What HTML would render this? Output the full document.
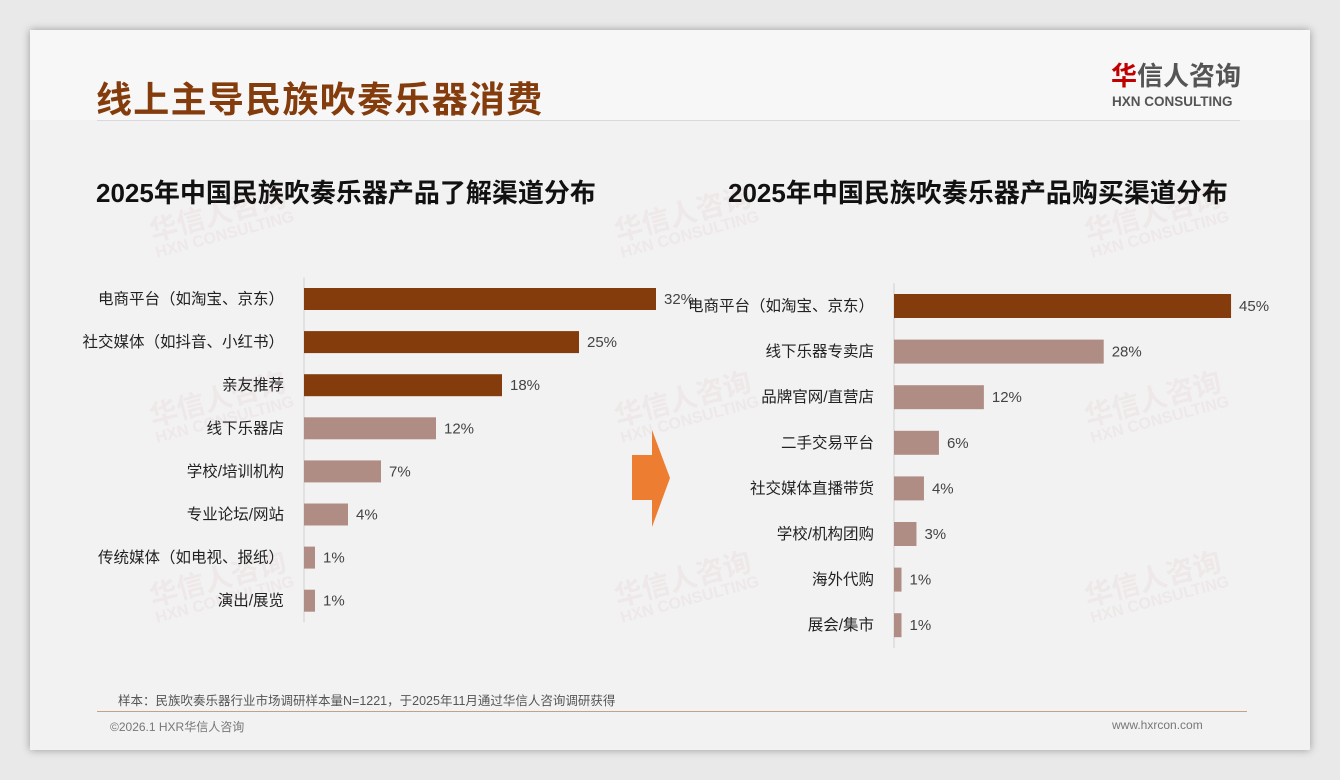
<!DOCTYPE html>
<html><head><meta charset="utf-8"><style>
body{margin:0;width:1340px;height:780px;background:#e9e9e9;font-family:"Liberation Sans","Noto Sans CJK SC",sans-serif;position:relative;overflow:hidden}
.card{position:absolute;left:30px;top:30px;width:1280px;height:720px;background:#f2f2f2;box-shadow:0 0 8px rgba(0,0,0,.35)}
.hdr{position:absolute;left:30px;top:30px;width:1280px;height:90px;background:#f7f7f7}
.t{position:absolute;white-space:nowrap}
.wm{position:absolute;color:rgba(200,120,120,0.07);font-weight:bold;font-size:28px;transform:rotate(-15deg);white-space:nowrap;line-height:1}
.wm span{display:block;font-size:16px}
</style></head><body>
<div class="card"></div>
<div class="hdr"></div>
<div class="t" style="left:96px;top:71px;font-size:36px;font-weight:bold;color:#843c0c;letter-spacing:1.3px">线上主导民族吹奏乐器消费</div>
<div style="position:absolute;left:97px;top:120px;width:1143px;height:1px;background:#d9d9d9"></div>
<div class="t" style="left:1111px;top:62px;font-size:26px;font-weight:bold;color:#555;line-height:28px"><span style="color:#c00000">华</span>信人咨询</div>
<div class="t" style="left:1112px;top:94px;font-size:13.5px;font-weight:bold;color:#555">HXN CONSULTING</div>
<div class="t" style="left:96px;top:173px;font-size:26px;font-weight:bold;color:#111">2025年中国民族吹奏乐器产品了解渠道分布</div>
<div class="t" style="left:728px;top:173px;font-size:26px;font-weight:bold;color:#111">2025年中国民族吹奏乐器产品购买渠道分布</div>
<div class="wm" style="left:150px;top:200px">华信人咨询<span>HXN CONSULTING</span></div>
<div class="wm" style="left:615px;top:200px">华信人咨询<span>HXN CONSULTING</span></div>
<div class="wm" style="left:1085px;top:200px">华信人咨询<span>HXN CONSULTING</span></div>
<div class="wm" style="left:150px;top:385px">华信人咨询<span>HXN CONSULTING</span></div>
<div class="wm" style="left:615px;top:385px">华信人咨询<span>HXN CONSULTING</span></div>
<div class="wm" style="left:1085px;top:385px">华信人咨询<span>HXN CONSULTING</span></div>
<div class="wm" style="left:150px;top:565px">华信人咨询<span>HXN CONSULTING</span></div>
<div class="wm" style="left:615px;top:565px">华信人咨询<span>HXN CONSULTING</span></div>
<div class="wm" style="left:1085px;top:565px">华信人咨询<span>HXN CONSULTING</span></div>
<svg width="1340" height="780" style="position:absolute;left:0;top:0" id="svg">
<polygon points="632,455 652,455 652,430 670,478 652,527 652,500 632,500" fill="#ed7d31"/>
</svg>
<div style="position:absolute;left:97px;top:711px;width:1150px;height:1px;background:#c4a288"></div>
<div class="t" style="left:118px;top:690px;font-size:12.5px;color:#555">样本：民族吹奏乐器行业市场调研样本量N=1221，于2025年11月通过华信人咨询调研获得</div>
<div class="t" style="left:110px;top:718px;font-size:12px;color:#777">©2026.1 HXR华信人咨询</div>
<div class="t" style="left:1112px;top:718px;font-size:12px;color:#777">www.hxrcon.com</div>
<script>
const leftCats=["电商平台（如淘宝、京东）","社交媒体（如抖音、小红书）","亲友推荐","线下乐器店","学校/培训机构","专业论坛/网站","传统媒体（如电视、报纸）","演出/展览"];
const leftVals=[32,25,18,12,7,4,1,1];
const leftDark=[1,1,1,0,0,0,0,0];
const rightCats=["电商平台（如淘宝、京东）","线下乐器专卖店","品牌官网/直营店","二手交易平台","社交媒体直播带货","学校/机构团购","海外代购","展会/集市"];
const rightVals=[45,28,12,6,4,3,1,1];
const rightDark=[1,0,0,0,0,0,0,0];
const NS="http://www.w3.org/2000/svg";
const svg=document.getElementById('svg');
function chart(cats,vals,dark,o){
  const x=v=>o.x0+v*o.k;
  const y=i=>o.y0+i*o.step;
  const ax=document.createElementNS(NS,'line');
  
  
  ax.setAttribute('x1',o.x0);ax.setAttribute('x2',o.x0);
  ax.setAttribute('y1',y(0)-o.step/2);ax.setAttribute('y2',y(cats.length-1)+o.step/2);
  ax.setAttribute('stroke','#d0d0d0');svg.appendChild(ax);
  cats.forEach((c,i)=>{
    const r=document.createElementNS(NS,'rect');
    
    
    r.setAttribute('x',o.x0);r.setAttribute('y',y(i)-o.h/2);
    r.setAttribute('width',x(vals[i])-o.x0);r.setAttribute('height',o.h);
    r.setAttribute('fill',dark[i]?'#843c0c':'#b08d84');svg.appendChild(r);
    const l=document.createElementNS(NS,'text');
    
    
    l.setAttribute('x',o.lx);l.setAttribute('y',y(i)+5);l.setAttribute('text-anchor','end');
    l.setAttribute('font-size','15.5');l.setAttribute('fill','#222');l.textContent=c;svg.appendChild(l);
    const v=document.createElementNS(NS,'text');
    
    
    v.setAttribute('x',x(vals[i])+8);v.setAttribute('y',y(i)+5);
    v.setAttribute('font-size','15');v.setAttribute('fill','#444');v.textContent=vals[i]+'%';svg.appendChild(v);
  });
}
chart(leftCats,leftVals,leftDark,{name:'left-chart',x0:304,k:11,y0:299,step:43.1,h:22,lx:284});
chart(rightCats,rightVals,rightDark,{name:'right-chart',x0:894,k:7.49,y0:306,step:45.6,h:24,lx:874});
</script>
</body></html>
